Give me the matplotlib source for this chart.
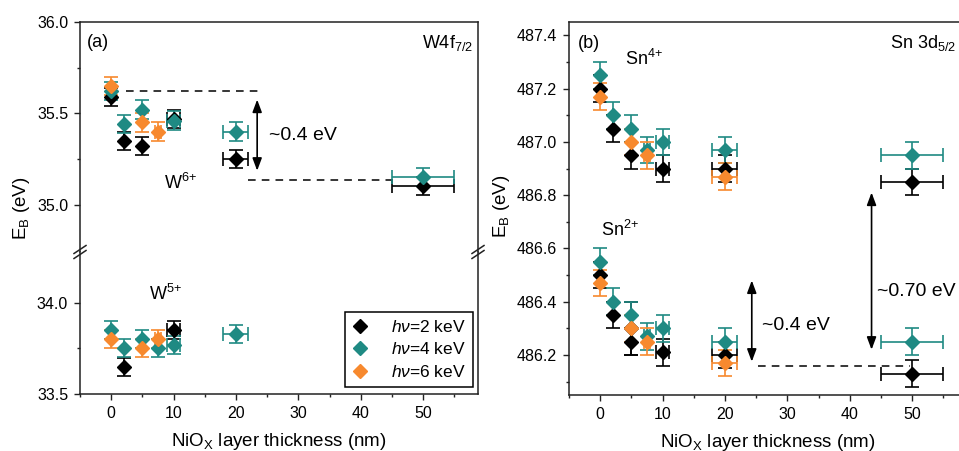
import matplotlib
matplotlib.use("Agg")
import matplotlib.pyplot as plt
from matplotlib.lines import Line2D
from matplotlib.ticker import MultipleLocator, FixedLocator

plt.rcParams['font.family'] = ['Liberation Sans', 'DejaVu Sans']
plt.rcParams['mathtext.fontset'] = 'custom'
plt.rcParams['mathtext.rm'] = 'Liberation Sans'
plt.rcParams['mathtext.it'] = 'Liberation Sans:italic'
plt.rcParams['mathtext.bf'] = 'Liberation Sans:bold'

# ---------------- data ----------------
labels = ["$h\\nu$=2 keV", "$h\\nu$=4 keV", "$h\\nu$=6 keV"]
colors = ["#000000", "#1f8a83", "#f7892e"]

# Panel (a) W 4f7/2, W6+
w6_x_2 = [0, 2, 5, 10, 20, 50]
w6_y_2 = [35.59, 35.35, 35.32, 35.47, 35.25, 35.10]
w6_xe_2 = [0, 0, 0, 1, 2, 5]
w6_ye_2 = [0.05, 0.05, 0.05, 0.05, 0.05, 0.05]
w6_x_4 = [0, 2, 5, 10, 20, 50]
w6_y_4 = [35.62, 35.44, 35.52, 35.46, 35.40, 35.15]
w6_xe_4 = [0, 0, 0, 1, 2, 5]
w6_ye_4 = [0.05, 0.05, 0.05, 0.05, 0.05, 0.05]
w6_x_6 = [0, 5, 7.5]
w6_y_6 = [35.65, 35.45, 35.40]
w6_xe_6 = [0, 0, 0.5]
w6_ye_6 = [0.05, 0.05, 0.05]

# Panel (a) W5+
w5_x_2 = [2, 10]
w5_y_2 = [33.65, 33.85]
w5_xe_2 = [0, 1]
w5_ye_2 = [0.05, 0.05]
w5_x_4 = [0, 2, 5, 7.5, 10, 20]
w5_y_4 = [33.85, 33.75, 33.80, 33.75, 33.77, 33.83]
w5_xe_4 = [0, 0, 0, 0, 1, 2]
w5_ye_4 = [0.05, 0.05, 0.05, 0.05, 0.05, 0.05]
w5_x_6 = [0, 5, 7.5]
w5_y_6 = [33.80, 33.75, 33.80]
w5_xe_6 = [0, 0, 0.5]
w5_ye_6 = [0.05, 0.05, 0.05]

# Panel (b) Sn 3d5/2, Sn4+
sn4_x_2 = [0, 2, 5, 10, 20, 50]
sn4_y_2 = [487.20, 487.05, 486.95, 486.90, 486.90, 486.85]
sn4_xe_2 = [0, 0, 0, 1, 2, 5]
sn4_ye_2 = [0.05, 0.05, 0.05, 0.05, 0.05, 0.05]
sn4_x_4 = [0, 2, 5, 7.5, 10, 20, 50]
sn4_y_4 = [487.25, 487.10, 487.05, 486.97, 487.00, 486.97, 486.95]
sn4_xe_4 = [0, 0, 0, 0.5, 1, 2, 5]
sn4_ye_4 = [0.05, 0.05, 0.05, 0.05, 0.05, 0.05, 0.05]
sn4_x_6 = [0, 5, 7.5, 20]
sn4_y_6 = [487.17, 487.00, 486.95, 486.87]
sn4_xe_6 = [0, 0, 0.5, 2]
sn4_ye_6 = [0.05, 0.05, 0.05, 0.05]

# Panel (b) Sn2+
sn2_x_2 = [0, 2, 5, 5, 10, 20, 50]
sn2_y_2 = [486.50, 486.35, 486.30, 486.25, 486.21, 486.20, 486.13]
sn2_xe_2 = [0, 0, 0, 0, 1, 2, 5]
sn2_ye_2 = [0.05, 0.05, 0.10, 0.05, 0.05, 0.05, 0.05]
sn2_x_4 = [0, 2, 5, 7.5, 10, 20, 50]
sn2_y_4 = [486.55, 486.40, 486.35, 486.27, 486.30, 486.25, 486.25]
sn2_xe_4 = [0, 0, 0, 0.5, 1, 2, 5]
sn2_ye_4 = [0.05, 0.05, 0.05, 0.05, 0.05, 0.05, 0.05]
sn2_x_6 = [0, 5, 7.5, 20]
sn2_y_6 = [486.47, 486.30, 486.25, 486.17]
sn2_xe_6 = [0, 0, 0.5, 2]
sn2_ye_6 = [0.05, 0.05, 0.05, 0.05]

# ---------------- figure ----------------
W, H = 959, 451
fig = plt.figure(figsize=(W / 100, H / 100), dpi=100)

def px(x0, y0, x1, y1):
    return [x0 / W, 1 - y1 / H, (x1 - x0) / W, (y1 - y0) / H]

ax_top = fig.add_axes(px(80, 22, 478, 252))
ax_bot = fig.add_axes(px(80, 252, 478, 394))
ax_b = fig.add_axes(px(569, 22, 967, 395))

ms = 7.5
cs = 5
elw = 1.2

def eb(ax, x, y, xe, ye, c):
    ax.errorbar(x, y, yerr=ye, xerr=xe, fmt='D', color=c, ms=ms, mec=c, mfc=c,
                ecolor=c, elinewidth=elw, capsize=cs, capthick=elw, zorder=3)

sets_top = [(w6_x_2, w6_y_2, w6_xe_2, w6_ye_2), (w6_x_4, w6_y_4, w6_xe_4, w6_ye_4),
            (w6_x_6, w6_y_6, w6_xe_6, w6_ye_6)]
sets_bot = [(w5_x_2, w5_y_2, w5_xe_2, w5_ye_2), (w5_x_4, w5_y_4, w5_xe_4, w5_ye_4),
            (w5_x_6, w5_y_6, w5_xe_6, w5_ye_6)]
sets_b4 = [(sn4_x_2, sn4_y_2, sn4_xe_2, sn4_ye_2), (sn4_x_4, sn4_y_4, sn4_xe_4, sn4_ye_4),
           (sn4_x_6, sn4_y_6, sn4_xe_6, sn4_ye_6)]
sets_b2 = [(sn2_x_2, sn2_y_2, sn2_xe_2, sn2_ye_2), (sn2_x_4, sn2_y_4, sn2_xe_4, sn2_ye_4),
           (sn2_x_6, sn2_y_6, sn2_xe_6, sn2_ye_6)]

for i, c in enumerate(colors):
    eb(ax_top, *sets_top[i], c)
    eb(ax_bot, *sets_bot[i], c)
    eb(ax_b, *sets_b4[i], c)
    eb(ax_b, *sets_b2[i], c)

xlim = (-5, 58.8)
scale = 182.5
ax_top.set_xlim(*xlim)
ax_bot.set_xlim(*xlim)
ax_b.set_xlim(*xlim)
ax_top.set_ylim(36.0 - 230 / scale, 36.0)
ax_bot.set_ylim(33.5, 33.5 + 142 / scale)
ax_b.set_ylim(486.05, 487.45)

spine_c = '#222222'
for ax in (ax_top, ax_bot, ax_b):
    for s in ax.spines.values():
        s.set_linewidth(1.1)
        s.set_color(spine_c)
    ax.tick_params(axis='both', which='both', direction='out', top=False, right=False,
                   colors=spine_c, labelcolor='black', labelsize=11.5, width=1.0, pad=4)
    ax.tick_params(which='major', length=4.5)
    ax.tick_params(which='minor', length=2.5)
    ax.xaxis.set_major_locator(MultipleLocator(10))
    ax.xaxis.set_minor_locator(MultipleLocator(5))

ax_top.spines['bottom'].set_visible(False)
ax_bot.spines['top'].set_visible(False)
ax_top.tick_params(axis='x', which='both', bottom=False, labelbottom=False)
ax_top.yaxis.set_major_locator(FixedLocator([35.0, 35.5, 36.0]))
ax_top.yaxis.set_minor_locator(FixedLocator([35.25, 35.75]))
ax_top.yaxis.set_major_formatter(plt.FormatStrFormatter('%.1f'))
ax_bot.yaxis.set_major_locator(FixedLocator([33.5, 34.0]))
ax_bot.yaxis.set_minor_locator(FixedLocator([33.75]))
ax_bot.yaxis.set_major_formatter(plt.FormatStrFormatter('%.1f'))
ax_b.yaxis.set_major_locator(MultipleLocator(0.2))
ax_b.yaxis.set_minor_locator(MultipleLocator(0.1))
ax_b.yaxis.set_major_formatter(plt.FormatStrFormatter('%.1f'))

# axis break marks
for xp in (80, 478):
    for dy in (-2.5, 2.5):
        fig.add_artist(Line2D([(xp - 6) / W, (xp + 6) / W],
                              [1 - (252 + dy + 4) / H, 1 - (252 + dy - 4) / H],
                              color=spine_c, lw=1.1, transform=fig.transFigure))

# labels
fs_lab = 13.5
ax_bot.set_xlabel("NiO$_\\mathregular{X}$ layer thickness (nm)", fontsize=fs_lab, labelpad=7)
ax_b.set_xlabel("NiO$_\\mathregular{X}$ layer thickness (nm)", fontsize=fs_lab, labelpad=7)
fig.text(22 / W, 1 - 208 / H, "E$_\\mathregular{B}$ (eV)", rotation=90, ha='center', va='center', fontsize=fs_lab)
fig.text(501 / W, 1 - 206 / H, "E$_\\mathregular{B}$ (eV)", rotation=90, ha='center', va='center', fontsize=fs_lab)

fs_t = 13
ax_top.text(-3.9, 35.885, "(a)", fontsize=fs_t, va='center', ha='left')
ax_top.text(58.0, 35.885, "W4f$_{\\mathregular{7/2}}$", fontsize=fs_t, va='center', ha='right')
ax_top.text(8.5, 35.12, "W$^{\\mathregular{6{+}}}$", fontsize=fs_t, va='center', ha='left')
ax_bot.text(6.0, 34.05, "W$^{\\mathregular{5{+}}}$", fontsize=fs_t, va='center', ha='left')
ax_top.text(25.3, 35.38, "~0.4 eV", fontsize=14, va='center', ha='left')

ax_b.text(-3.5, 487.37, "(b)", fontsize=fs_t, va='center', ha='left')
ax_b.text(57.1, 487.37, "Sn 3d$_{\\mathregular{5/2}}$", fontsize=fs_t, va='center', ha='right')
ax_b.text(4.0, 487.31, "Sn$^{\\mathregular{4{+}}}$", fontsize=fs_t, va='center', ha='left')
ax_b.text(0.2, 486.67, "Sn$^{\\mathregular{2{+}}}$", fontsize=fs_t, va='center', ha='left')
ax_b.text(26.0, 486.31, "~0.4 eV", fontsize=14, va='center', ha='left')
ax_b.text(44.3, 486.44, "~0.70 eV", fontsize=14, va='center', ha='left')

# dashed guide lines
dash = dict(color='black', lw=1.1, ls=(0, (5, 4)), zorder=2)
ax_top.plot([2.3, 23.8], [35.62, 35.62], **dash)
ax_top.plot([22.0, 45.0], [35.135, 35.135], **dash)
ax_b.plot([25.3, 49.7], [486.157, 486.157], **dash)

# arrows
ap = dict(arrowstyle='<|-|>,head_length=0.75,head_width=0.28', color='black', lw=1.2,
          shrinkA=0, shrinkB=0, mutation_scale=10)
ax_top.annotate("", xy=(23.4, 35.575), xytext=(23.4, 35.185), arrowprops=ap)
ax_b.annotate("", xy=(24.3, 486.48), xytext=(24.3, 486.175), arrowprops=ap)
ax_b.annotate("", xy=(43.5, 486.81), xytext=(43.5, 486.22), arrowprops=ap)

# legend
handles = [Line2D([], [], ls='none', marker='D', color=c, ms=ms) for c in colors]
leg = ax_bot.legend(handles, labels, loc='lower right', bbox_to_anchor=(0.988, 0.05),
                    fontsize=12.5, frameon=True, fancybox=False, framealpha=1,
                    edgecolor='black', handlelength=1.0, handletextpad=1.3,
                    borderpad=0.4, labelspacing=0.38, borderaxespad=0)
leg.get_frame().set_linewidth(1.1)

fig.savefig("out.png", dpi=100)
